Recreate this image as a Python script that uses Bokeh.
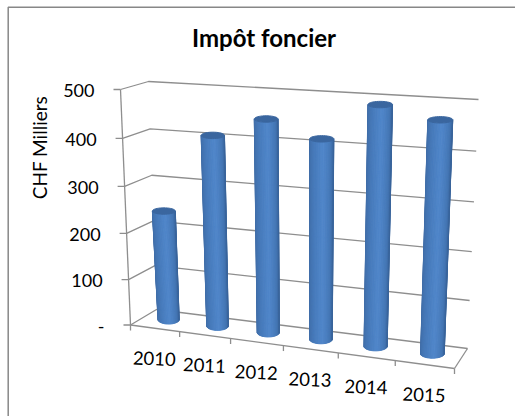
from bokeh.plotting import figure
from bokeh.models import Range1d
from bokeh.core.properties import value
from bokeh.embed import file_html
from bokeh.resources import INLINE
import math

years = ["2010", "2011", "2012", "2013", "2014", "2015"]
impot = [240, 408, 449, 417, 492, 470]
y_ticks = [0, 100, 200, 300, 400, 500]
y_tick_labels = ["-", "100", "200", "300", "400", "500"]
title = "Impôt foncier"
y_title = "CHF Milliers"

GRID = "#8e8e8e"
FONT = "Lato"

FLB, FRB = (130, 324.5), (454, 368)
BLB, BRB = (156, 309), (467, 348)
FLT, FRT = (120, 89), (465, 112)
BLT, BRT = (148, 81), (478, 99)

def lerp(a, b, t):
    return (a[0] + (b[0] - a[0]) * t, a[1] + (b[1] - a[1]) * t)

def s_of(u):
    c = 0.01768
    return u * (1 - 6 * c) / (6 * (1 - c * u))

def t_of(v):
    c = 0.009
    n = v / 100
    return n * (1 - 5 * c) / (5 * (1 - c * n))

def project(u, w, v):
    s = s_of(u)
    t = t_of(v)
    bottom = lerp(lerp(FLB, FRB, s), lerp(BLB, BRB, s), w)
    top = lerp(lerp(FLT, FRT, s), lerp(BLT, BRT, s), w)
    return lerp(bottom, top, t)

p = figure(width=515, height=416, x_range=Range1d(0, 515), y_range=Range1d(416, 0),
           output_backend="svg", toolbar_location=None, min_border=0,
           background_fill_color="white", border_fill_color="white", outline_line_color=None)
p.xaxis.visible = False
p.yaxis.visible = False
p.grid.visible = False

p.line([7.7, 7.7, 515], [416, 6.7, 6.7], line_color="#878787", line_width=1.5)

n = len(years)

def seg(a, b, w=1.3, c=GRID):
    p.line([a[0], b[0]], [a[1], b[1]], line_color=c, line_width=w)

for v in y_ticks:
    a, b, c = project(0, 0, v), project(0, 1, v), project(n, 1, v)
    p.line([a[0], b[0], c[0]], [a[1], b[1], c[1]], line_color=GRID, line_width=1.3)
    seg((a[0] - 7, a[1]), a)

seg(project(0, 0, 0), project(0, 0, 500))
seg(project(0, 0, 0), project(n, 0, 0))
seg(project(n, 0, 0), project(n, 1, 0))
for u in range(n + 1):
    a = project(u, 0, 0)
    seg(a, (a[0], a[1] + 5.5))

xs, ys, cols = [], [], []
steps = 26
stops = [(0.0, (62, 106, 162)), (0.3, (70, 122, 186)), (0.55, (80, 134, 202)),
         (0.8, (68, 118, 180)), (1.0, (56, 98, 152))]

def shade(f):
    for (f0, c0), (f1, c1) in zip(stops, stops[1:]):
        if f <= f1:
            k = (f - f0) / (f1 - f0)
            return "#%02x%02x%02x" % tuple(round(a + (b - a) * k) for a, b in zip(c0, c1))
    return "#386298"

for i, val in enumerate(impot):
    u = i + 0.5
    bc = project(u, 0.55, 0)
    tc = project(u, 0.5, val)
    s = s_of(u)
    rb, rt = 10.5 + 1.5 * s, 11.4 + 1.2 * s
    ryb, ryt = 4.5, 3.2
    for k in range(steps):
        a0 = math.pi * (1 - k / steps)
        a1 = math.pi * (1 - (k + 1) / steps)
        xs.append([tc[0] + rt * math.cos(a0), tc[0] + rt * math.cos(a1),
                   bc[0] + rb * math.cos(a1), bc[0] + rb * math.cos(a0)])
        ys.append([tc[1] + ryt * math.sin(a0), tc[1] + ryt * math.sin(a1),
                   bc[1] + ryb * math.sin(a1), bc[1] + ryb * math.sin(a0)])
        f = (k + 0.5) / steps
        cols.append(shade(f))
    th = [2 * math.pi * q / 40 for q in range(40)]
    xs.append([tc[0] + rt * math.cos(q) for q in th])
    ys.append([tc[1] + ryt * math.sin(q) for q in th])
    cols.append("#3a669f")
p.patches(xs, ys, fill_color=cols, line_color=cols, line_width=1)

p.text([263.5], [37], text=[title], text_font=value(FONT), text_font_style="bold",
       text_font_size="24px", text_color="#000000", text_align="center", text_baseline="middle")
p.text([39], [147], text=[y_title], angle=1.5708, text_font=value(FONT), text_font_size="19px",
       text_color="#000000", text_align="center", text_baseline="middle")

for v, lab in zip(y_ticks, y_tick_labels):
    a = project(0, 0, v)
    p.text([a[0] - 26], [a[1] + 1], text=[lab], text_font=value(FONT), text_font_size="18px",
           text_color="#000000", text_align="right", text_baseline="middle")
for i, lab in enumerate(years):
    a = project(i + 0.5, 0, 0)
    p.text([a[0] - 0.5], [a[1] + 30], text=[lab], angle=-0.04, text_font=value(FONT), text_font_size="18.5px",
           text_color="#000000", text_align="center", text_baseline="middle")

open("out.html", "w").write(file_html(p, INLINE))
